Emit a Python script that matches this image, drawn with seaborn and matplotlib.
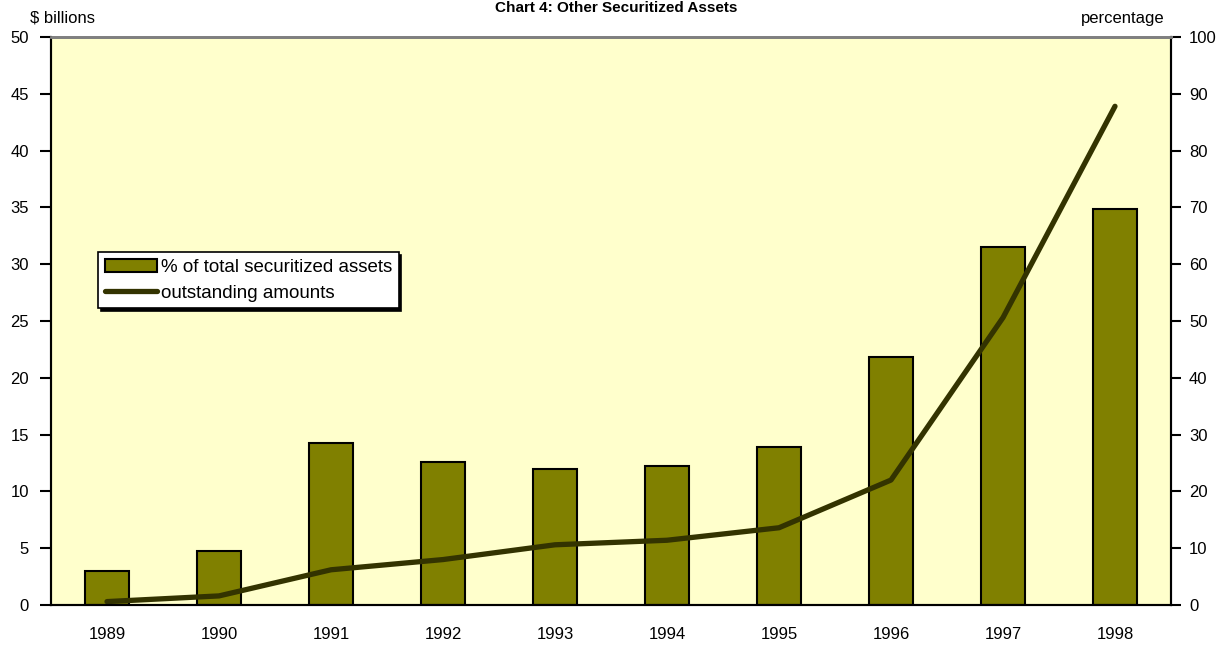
import numpy as np
import pandas as pd
import matplotlib
matplotlib.use("Agg")
import matplotlib.pyplot as plt
import seaborn as sns

# data
years = ["1989", "1990", "1991", "1992", "1993", "1994", "1995", "1996", "1997", "1998"]
pct_of_total = [6.0, 9.5, 28.6, 25.1, 24.0, 24.4, 27.9, 43.7, 63.1, 69.8]   # right axis, bars
outstanding = [0.3, 0.8, 3.1, 4.0, 5.3, 5.7, 6.8, 11.0, 25.3, 43.9]          # left axis, line

left_ticks = list(range(0, 55, 5))
right_ticks = list(range(0, 110, 10))

df = pd.DataFrame({"year": years, "pct": pct_of_total, "amount": outstanding})

sns.set_theme(style="white")
plt.rcParams["font.family"] = ["Liberation Sans", "DejaVu Sans"]
plt.rcParams["text.color"] = "black"
plt.rcParams["xtick.color"] = "black"
plt.rcParams["ytick.color"] = "black"

fs = 12

fig = plt.figure(figsize=(12.32, 6.52), dpi=100)
ax = fig.add_axes([51 / 1232, 1 - 605 / 652, 1120 / 1232, 568 / 652])
ax2 = ax.twinx()

# bars on the percentage axis (drawn underneath)
sns.barplot(data=df, x="year", y="pct", ax=ax2, color="#808000", saturation=1,
            width=0.39, edgecolor="black", linewidth=1.5,
            label="% of total securitized assets")
ax2.set_ylim(0, 100)
ax2.set_yticks(right_ticks)
ax2.set_ylabel("")
ax2.set_xlabel("")

# line on the $ billions axis (on top)
sns.lineplot(data=df, x="year", y="amount", ax=ax, color="#333300", linewidth=3.8,
             solid_capstyle="round", label="outstanding amounts", sort=False)
ax.set_ylim(0, 50)
ax.set_yticks(left_ticks)
ax.set_xlim(-0.5, 9.5)
ax.set_xlabel("")
ax.set_ylabel("")

ax.set_zorder(ax2.get_zorder() + 1)
ax.patch.set_visible(False)
ax2.patch.set_visible(True)
ax2.patch.set_facecolor("#FFFFCC")

# x ticks: labels at centres, tick marks at boundaries
ax.set_xticks(range(len(years)))
ax.set_xticklabels(years)
ax.set_xticks(np.arange(-0.5, 10, 1), minor=True)
ax.tick_params(axis="x", which="major", length=0, pad=16, labelsize=fs)
ax.tick_params(axis="x", which="minor", length=7, width=1.5, color="black", direction="out")
ax.tick_params(axis="y", length=8, width=1.5, color="black", direction="out", pad=8,
               labelsize=fs, left=True)
ax2.tick_params(axis="y", length=7, width=1.5, color="black", direction="out", pad=6,
                labelsize=fs, right=True)
ax2.tick_params(axis="x", which="both", length=0)

for a in (ax, ax2):
    for side in ("left", "right", "bottom"):
        a.spines[side].set_color("black")
        a.spines[side].set_linewidth(1.5)
    a.spines["top"].set_color("#808080")
    a.spines["top"].set_linewidth(2)

# legend with both series
h2, l2 = ax2.get_legend_handles_labels()
h1, l1 = ax.get_legend_handles_labels()
if ax2.get_legend():
    ax2.get_legend().remove()
leg = ax.legend(h2 + h1, l2 + l1, loc="upper left", bbox_to_anchor=(0.042, 0.621),
                borderaxespad=0, fancybox=False, frameon=True, fontsize=13.5,
                handlelength=2.8, handletextpad=0.2, labelspacing=0.45,
                borderpad=0.35, shadow={"color": "black", "alpha": 1})
leg.get_frame().set_edgecolor("black")
leg.get_frame().set_linewidth(1.2)
leg.get_frame().set_facecolor("white")

fig.text(62 / 1232, 1 - 18 / 652, "$ billions", fontsize=fs, ha="center", va="center")
fig.text(1165 / 1232, 1 - 18 / 652, "percentage", fontsize=fs, ha="right", va="center")
fig.text(0.5, 1 - 1 / 652, "Chart 4: Other Securitized Assets", fontsize=11,
         fontweight="bold", ha="center", va="top")

fig.savefig("out.png", dpi=100, facecolor="white")
